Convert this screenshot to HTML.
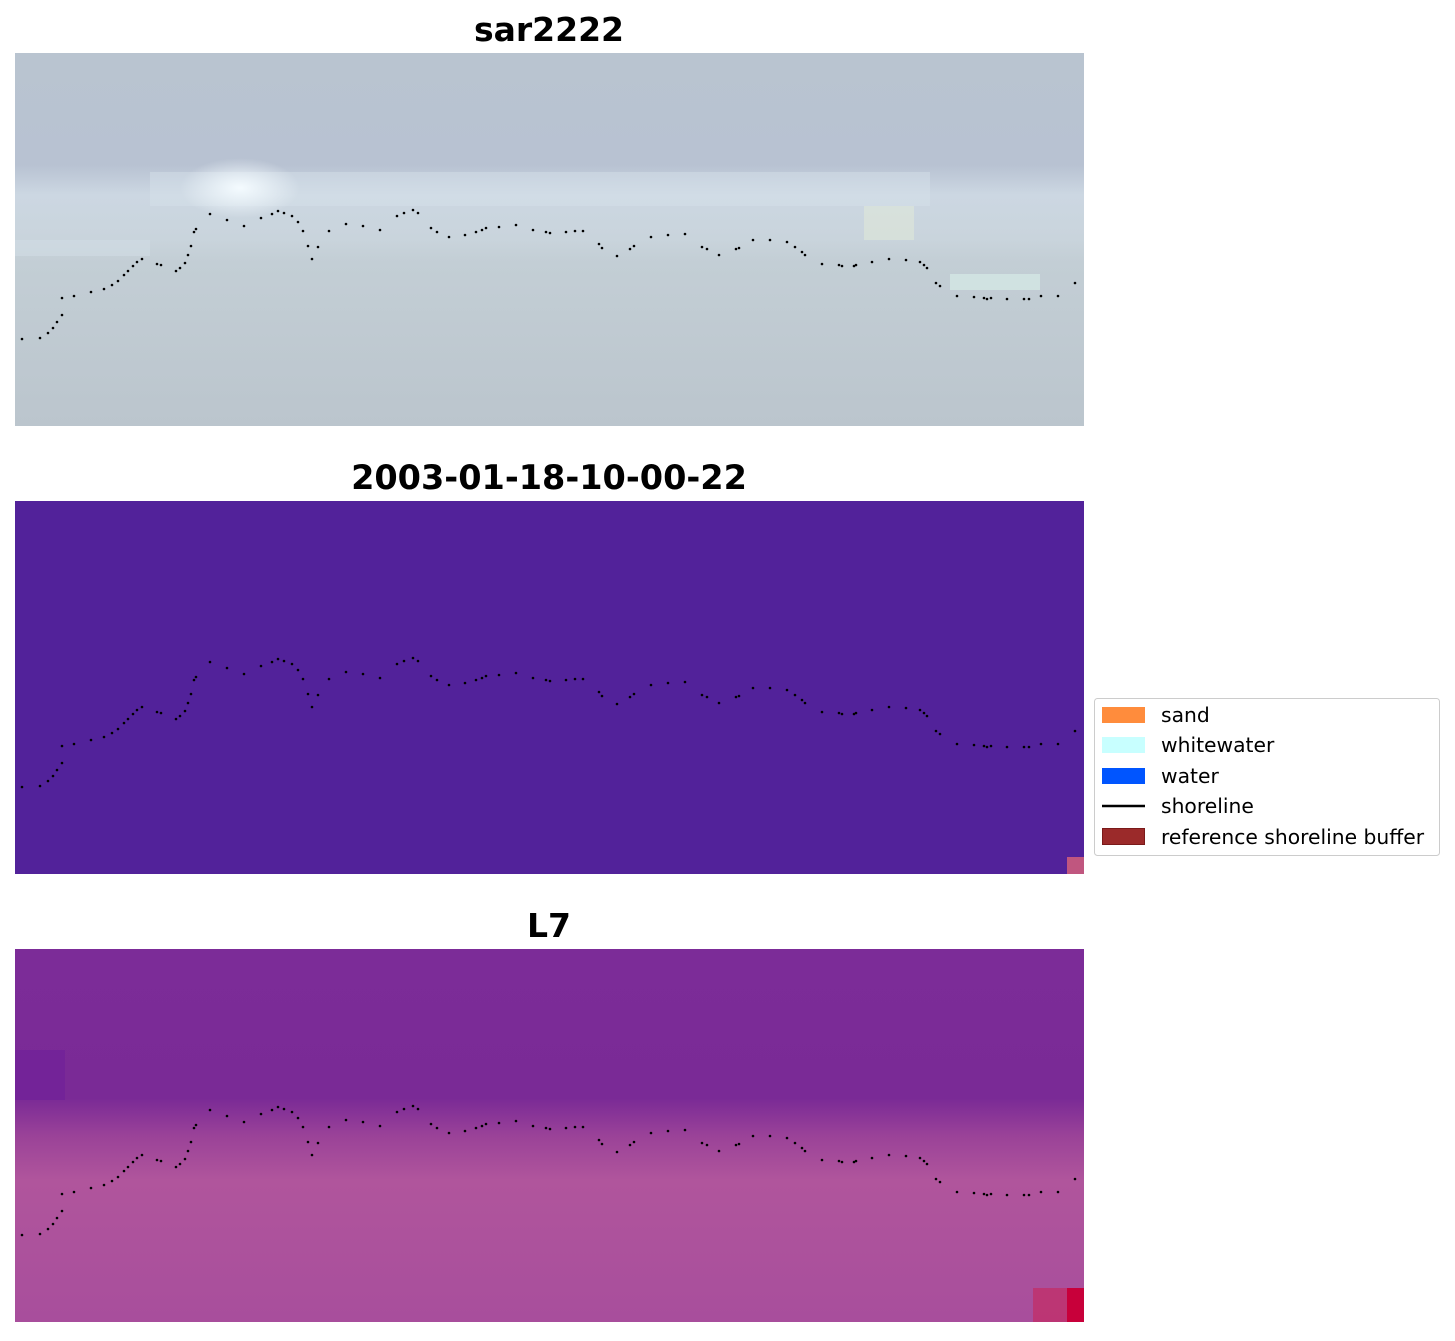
<!DOCTYPE html>
<html><head><meta charset="utf-8"><style>
body{margin:0;background:#fff;width:1455px;height:1337px;overflow:hidden;font-family:"DejaVu Sans","Liberation Sans",sans-serif}
</style></head><body>
<svg width="1455" height="1337" xmlns="http://www.w3.org/2000/svg">
<defs>
<linearGradient id="g1" x1="0" y1="0" x2="0" y2="1">
<stop offset="0" stop-color="#b9c4d0"/><stop offset="0.3" stop-color="#b8c2d2"/>
<stop offset="0.38" stop-color="#ccd7e2"/><stop offset="0.5" stop-color="#c9d4dc"/>
<stop offset="0.56" stop-color="#c3ced5"/><stop offset="1" stop-color="#bbc5cd"/>
</linearGradient>
<radialGradient id="spot" cx="0.5" cy="0.5" r="0.5">
<stop offset="0" stop-color="#f4fbff"/><stop offset="1" stop-color="#f4fbff" stop-opacity="0"/>
</radialGradient>
<linearGradient id="g3" x1="0" y1="0" x2="0" y2="1">
<stop offset="0" stop-color="#7c2c98"/><stop offset="0.4" stop-color="#7a2a96"/>
<stop offset="0.5" stop-color="#9a4298"/><stop offset="0.62" stop-color="#b0559c"/>
<stop offset="1" stop-color="#a84e9c"/>
</linearGradient>
<g id="dots" fill="#000">
<circle cx="22" cy="339" r="1.3"/><circle cx="40" cy="338" r="1.3"/><circle cx="48" cy="333" r="1.3"/><circle cx="53" cy="328" r="1.3"/><circle cx="57" cy="322" r="1.3"/><circle cx="62" cy="315" r="1.3"/><circle cx="62" cy="298" r="1.3"/><circle cx="74" cy="296" r="1.3"/><circle cx="91" cy="292" r="1.3"/><circle cx="104" cy="289" r="1.3"/><circle cx="112" cy="285" r="1.3"/><circle cx="118" cy="281" r="1.3"/><circle cx="124" cy="275" r="1.3"/><circle cx="128" cy="271" r="1.3"/><circle cx="133" cy="266" r="1.3"/><circle cx="137" cy="262" r="1.3"/><circle cx="142" cy="259" r="1.3"/><circle cx="157" cy="264" r="1.3"/><circle cx="161" cy="265" r="1.3"/><circle cx="176" cy="271" r="1.3"/><circle cx="180" cy="268" r="1.3"/><circle cx="185" cy="263" r="1.3"/><circle cx="188" cy="255" r="1.3"/><circle cx="191" cy="246" r="1.3"/><circle cx="194" cy="232" r="1.3"/><circle cx="196" cy="229" r="1.3"/><circle cx="210" cy="214" r="1.3"/><circle cx="227" cy="220" r="1.3"/><circle cx="244" cy="226" r="1.3"/><circle cx="261" cy="218" r="1.3"/><circle cx="272" cy="214" r="1.3"/><circle cx="278" cy="211" r="1.3"/><circle cx="284" cy="213" r="1.3"/><circle cx="292" cy="216" r="1.3"/><circle cx="298" cy="222" r="1.3"/><circle cx="303" cy="231" r="1.3"/><circle cx="308" cy="246" r="1.3"/><circle cx="312" cy="259" r="1.3"/><circle cx="318" cy="247" r="1.3"/><circle cx="329" cy="231" r="1.3"/><circle cx="346" cy="224" r="1.3"/><circle cx="363" cy="226" r="1.3"/><circle cx="380" cy="230" r="1.3"/><circle cx="397" cy="216" r="1.3"/><circle cx="404" cy="213" r="1.3"/><circle cx="413" cy="210" r="1.3"/><circle cx="418" cy="213" r="1.3"/><circle cx="431" cy="228" r="1.3"/><circle cx="437" cy="232" r="1.3"/><circle cx="449" cy="237" r="1.3"/><circle cx="465" cy="235" r="1.3"/><circle cx="476" cy="232" r="1.3"/><circle cx="482" cy="230" r="1.3"/><circle cx="486" cy="228" r="1.3"/><circle cx="499" cy="227" r="1.3"/><circle cx="516" cy="225" r="1.3"/><circle cx="533" cy="230" r="1.3"/><circle cx="546" cy="232" r="1.3"/><circle cx="550" cy="233" r="1.3"/><circle cx="566" cy="232" r="1.3"/><circle cx="575" cy="231" r="1.3"/><circle cx="583" cy="231" r="1.3"/><circle cx="599" cy="244" r="1.3"/><circle cx="602" cy="248" r="1.3"/><circle cx="617" cy="256" r="1.3"/><circle cx="630" cy="249" r="1.3"/><circle cx="634" cy="246" r="1.3"/><circle cx="651" cy="237" r="1.3"/><circle cx="668" cy="235" r="1.3"/><circle cx="685" cy="234" r="1.3"/><circle cx="702" cy="247" r="1.3"/><circle cx="707" cy="249" r="1.3"/><circle cx="719" cy="255" r="1.3"/><circle cx="736" cy="249" r="1.3"/><circle cx="739" cy="248" r="1.3"/><circle cx="753" cy="240" r="1.3"/><circle cx="770" cy="240" r="1.3"/><circle cx="787" cy="242" r="1.3"/><circle cx="795" cy="247" r="1.3"/><circle cx="802" cy="252" r="1.3"/><circle cx="805" cy="255" r="1.3"/><circle cx="822" cy="264" r="1.3"/><circle cx="839" cy="265" r="1.3"/><circle cx="842" cy="266" r="1.3"/><circle cx="854" cy="266" r="1.3"/><circle cx="856" cy="265" r="1.3"/><circle cx="872" cy="262" r="1.3"/><circle cx="889" cy="259" r="1.3"/><circle cx="906" cy="260" r="1.3"/><circle cx="920" cy="262" r="1.3"/><circle cx="924" cy="265" r="1.3"/><circle cx="927" cy="268" r="1.3"/><circle cx="936" cy="283" r="1.3"/><circle cx="940" cy="286" r="1.3"/><circle cx="957" cy="296" r="1.3"/><circle cx="974" cy="297" r="1.3"/><circle cx="984" cy="298" r="1.3"/><circle cx="987" cy="299" r="1.3"/><circle cx="991" cy="298" r="1.3"/><circle cx="1007" cy="299" r="1.3"/><circle cx="1024" cy="299" r="1.3"/><circle cx="1029" cy="299" r="1.3"/><circle cx="1041" cy="296" r="1.3"/><circle cx="1058" cy="296" r="1.3"/><circle cx="1075" cy="283" r="1.3"/>
</g>
</defs>
<!-- Panel 1 -->
<text x="549" y="41" text-anchor="middle" font-size="33" font-weight="bold" font-family="DejaVu Sans, sans-serif">sar2222</text>
<rect x="15" y="53" width="1069" height="373" fill="url(#g1)"/>
<rect x="150" y="172" width="780" height="34" fill="#d8e2ea" opacity="0.45"/>
<rect x="15" y="240" width="135" height="16" fill="#d0dce4" opacity="0.6"/>
<ellipse cx="240" cy="188" rx="60" ry="30" fill="url(#spot)"/>
<rect x="864" y="206" width="50" height="34" fill="#e4ecd8" opacity="0.5"/>
<rect x="950" y="274" width="90" height="16" fill="#d8f0ea" opacity="0.6"/>
<use href="#dots"/>
<!-- Panel 2 -->
<text x="549" y="489" text-anchor="middle" font-size="33.5" font-weight="bold" font-family="DejaVu Sans, sans-serif">2003-01-18-10-00-22</text>
<rect x="15" y="501" width="1069" height="373" fill="#52229a"/>
<rect x="1067" y="857" width="17" height="17" fill="#c0567f"/>
<use href="#dots" transform="translate(0,448)"/>
<!-- Panel 3 -->
<text x="549" y="937" text-anchor="middle" font-size="33" font-weight="bold" font-family="DejaVu Sans, sans-serif">L7</text>
<rect x="15" y="949" width="1069" height="373" fill="url(#g3)"/>
<rect x="15" y="1050" width="50" height="50" fill="#6a1a9c" opacity="0.45"/>
<rect x="1033" y="1288" width="51" height="34" fill="#c0306a" opacity="0.8"/>
<rect x="1067" y="1288" width="17" height="34" fill="#c8003a"/>
<use href="#dots" transform="translate(0,896)"/>
<!-- Legend -->
<rect x="1094.5" y="698.5" width="345" height="157" rx="3" fill="#fff" stroke="#ccc"/>
<rect x="1102" y="707" width="43" height="16" fill="#ff8c3c"/>
<rect x="1102" y="737" width="43" height="16" fill="#c8ffff"/>
<rect x="1102" y="768" width="43" height="16" fill="#0055ff"/>
<line x1="1102" y1="806" x2="1145" y2="806" stroke="#000" stroke-width="2.5"/>
<rect x="1102.5" y="828.5" width="42" height="16" fill="#9b2a2a" stroke="#7a1a1a"/>
<g font-size="20.3" font-family="DejaVu Sans, sans-serif">
<text x="1161" y="722">sand</text>
<text x="1161" y="752">whitewater</text>
<text x="1161" y="783">water</text>
<text x="1161" y="813">shoreline</text>
<text x="1161" y="844">reference shoreline buffer</text>
</g>
</svg>
</body></html>
